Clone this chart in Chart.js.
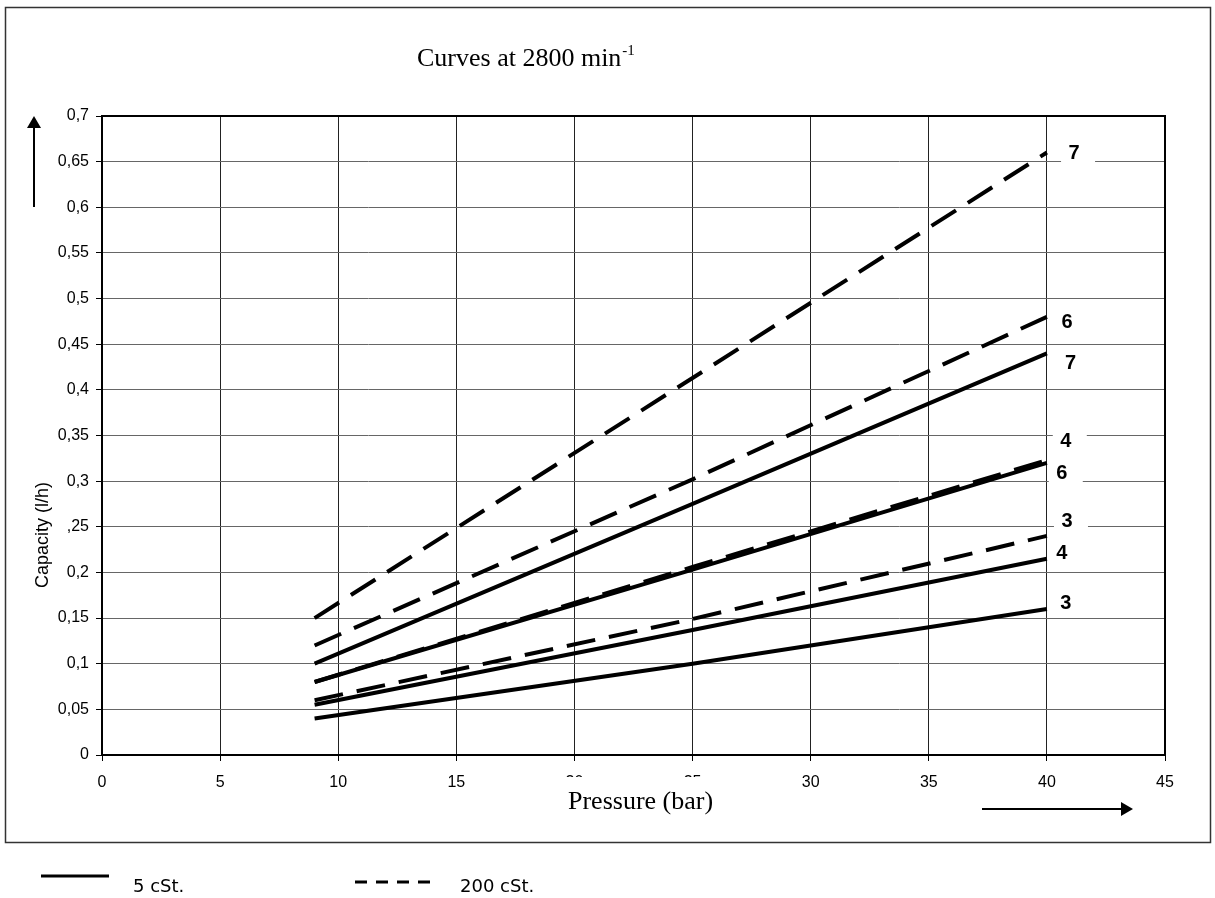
<!DOCTYPE html>
<html>
<head>
<meta charset="utf-8">
<title>Curves at 2800 min-1</title>
<script src="https://cdn.jsdelivr.net/npm/chart.js@4.4.1/dist/chart.umd.min.js"></script>
<style>
    body { margin: 0; background: #fff; }
    canvas { display: block; }
</style>
</head>
<body>
<canvas id="curvasChart" width="1215" height="898"></canvas>
<script>
// Dados (pressao em bar, capacidade em l/h)
var pressao = [9, 25, 40];

// 5 cSt. (linhas cheias)
var solida3 = [0.04, 0.10, 0.16];
var solida4 = [0.055, 0.137, 0.215];
var solida6 = [0.08, 0.203, 0.32];
var solida7 = [0.10, 0.275, 0.44];

// 200 cSt. (linhas tracejadas)
var tracejada3 = [0.06, 0.149, 0.24];
var tracejada4 = [0.08, 0.206, 0.323];
var tracejada6 = [0.12, 0.302, 0.48];
var tracejada7 = [0.15, 0.413, 0.66];

var xTickLabels = ['0', '5', '10', '15', '20', '25', '30', '35', '40', '45'];
var yTickLabels = ['0', '0,05', '0,1', '0,15', '0,2', ',25', '0,3', '0,35', '0,4', '0,45', '0,5', '0,55', '0,6', '0,65', '0,7'];

// Rotulos no fim das curvas
var rotulosTexto = ['7', '6', '7', '4', '6', '3', '4', '3'];
var rotulosX = [41.15, 40.85, 41.0, 40.8, 40.63, 40.85, 40.63, 40.8];
var rotulosY = [0.66, 0.475, 0.43, 0.344, 0.309, 0.257, 0.222, 0.1675];

var fonteSans = "'Liberation Sans', Arial, sans-serif";
var fonteSerif = "'Liberation Serif', 'Times New Roman', serif";

function montaSerie(valores, tracejada) {
    return {
        data: pressao.map(function (p, i) { return { x: p, y: valores[i] }; }),
        showLine: true,
        borderColor: '#000',
        borderWidth: 4,
        borderDash: tracejada ? [29, 14] : [],
        pointRadius: 0,
        fill: false
    };
}

function desenhaSeta(ctx, x1, y1, x2, y2) {
    var ang = Math.atan2(y2 - y1, x2 - x1);
    ctx.beginPath();
    ctx.moveTo(x1, y1);
    ctx.lineTo(x2 - 11 * Math.cos(ang), y2 - 11 * Math.sin(ang));
    ctx.stroke();
    ctx.beginPath();
    ctx.moveTo(x2, y2);
    ctx.lineTo(x2 - 12 * Math.cos(ang) + 7 * Math.sin(ang), y2 - 12 * Math.sin(ang) - 7 * Math.cos(ang));
    ctx.lineTo(x2 - 12 * Math.cos(ang) - 7 * Math.sin(ang), y2 - 12 * Math.sin(ang) + 7 * Math.cos(ang));
    ctx.closePath();
    ctx.fill();
}

var molduraPlugin = {
    id: 'moldura',
    beforeDatasetsDraw: function (chart) {
        var ctx = chart.ctx;
        var a = chart.chartArea;
        ctx.save();
        ctx.strokeStyle = '#000';
        ctx.lineWidth = 2;
        ctx.strokeRect(a.left, a.top, a.right - a.left, a.bottom - a.top);
        ctx.restore();
    },
    afterDraw: function (chart) {
        var ctx = chart.ctx;
        var sx = chart.scales.x;
        var sy = chart.scales.y;
        ctx.save();

        // caixa externa
        ctx.strokeStyle = '#333';
        ctx.lineWidth = 1.5;
        ctx.strokeRect(5.5, 7.5, 1205, 835);

        // rotulos das curvas com fundo branco
        ctx.font = 'bold 20px ' + fonteSans;
        ctx.textAlign = 'center';
        ctx.textBaseline = 'middle';
        rotulosTexto.forEach(function (t, i) {
            var px = sx.getPixelForValue(rotulosX[i]);
            var py = sy.getPixelForValue(rotulosY[i]);
            ctx.fillStyle = '#fff';
            ctx.fillRect(px - 13, py - 11, 34, 22);
            ctx.fillStyle = '#000';
            ctx.fillText(t, px, py + 1);
        });

        // titulo
        ctx.fillStyle = '#000';
        ctx.textAlign = 'left';
        ctx.textBaseline = 'alphabetic';
        ctx.font = '26px ' + fonteSerif;
        var titulo = 'Curves at 2800 min';
        ctx.fillText(titulo, 417, 66);
        var w = ctx.measureText(titulo).width;
        ctx.font = '15px ' + fonteSerif;
        ctx.fillText('-1', 417 + w + 1, 55);

        // titulo do eixo x (cobre parte dos numeros 20 e 25)
        ctx.fillStyle = '#fff';
        ctx.fillRect(562, 777, 165, 40);
        ctx.fillStyle = '#000';
        ctx.font = '26px ' + fonteSerif;
        ctx.fillText('Pressure (bar)', 568, 809);

        // titulo do eixo y
        ctx.save();
        ctx.translate(48, 535);
        ctx.rotate(-Math.PI / 2);
        ctx.textAlign = 'center';
        ctx.font = '18px ' + fonteSans;
        ctx.fillText('Capacity (l/h)', 0, 0);
        ctx.restore();

        // setas
        ctx.strokeStyle = '#000';
        ctx.fillStyle = '#000';
        ctx.lineWidth = 2;
        desenhaSeta(ctx, 34, 207, 34, 116);
        desenhaSeta(ctx, 982, 809, 1133, 809);

        // legenda
        ctx.lineWidth = 3;
        ctx.beginPath();
        ctx.moveTo(41, 876);
        ctx.lineTo(109, 876);
        ctx.stroke();
        ctx.setLineDash([12, 9]);
        ctx.beginPath();
        ctx.moveTo(355, 882);
        ctx.lineTo(435, 882);
        ctx.stroke();
        ctx.setLineDash([]);
        ctx.font = '18px DejaVu Sans, sans-serif';
        ctx.fillText('5 cSt.', 133, 892);
        ctx.fillText('200 cSt.', 460, 892);

        ctx.restore();
    }
};

var ctxCurvas = document.getElementById('curvasChart').getContext('2d');
var curvasChart = new Chart(ctxCurvas, {
    type: 'scatter',
    data: {
        datasets: [
            montaSerie(solida3, false),
            montaSerie(solida4, false),
            montaSerie(solida6, false),
            montaSerie(solida7, false),
            montaSerie(tracejada3, true),
            montaSerie(tracejada4, true),
            montaSerie(tracejada6, true),
            montaSerie(tracejada7, true)
        ]
    },
    options: {
        responsive: false,
        animation: false,
        devicePixelRatio: 1,
        layout: { padding: { top: 116, right: 50, left: 0, bottom: 0 } },
        plugins: {
            legend: { display: false },
            tooltip: { enabled: false }
        },
        scales: {
            x: {
                type: 'linear',
                min: 0,
                max: 45,
                ticks: {
                    stepSize: 5,
                    autoSkip: false,
                    maxRotation: 0,
                    padding: 12,
                    color: '#000',
                    font: { family: fonteSans, size: 16 },
                    callback: function (v, i) { return xTickLabels[i]; }
                },
                grid: { color: '#222', lineWidth: 1, tickLength: 6, tickColor: '#000' },
                border: { color: '#000', width: 2 },
                afterFit: function (scale) { scale.height = 143; }
            },
            y: {
                min: 0,
                max: 0.7,
                ticks: {
                    stepSize: 0.05,
                    autoSkip: false,
                    padding: 7,
                    color: '#000',
                    font: { family: fonteSans, size: 16 },
                    callback: function (v, i) { return yTickLabels[i]; }
                },
                grid: { color: '#666', lineWidth: 1, tickLength: 6, tickColor: '#000' },
                border: { color: '#000', width: 2 },
                afterFit: function (scale) { scale.width = 102; }
            }
        }
    },
    plugins: [molduraPlugin]
});
</script>
</body>
</html>
